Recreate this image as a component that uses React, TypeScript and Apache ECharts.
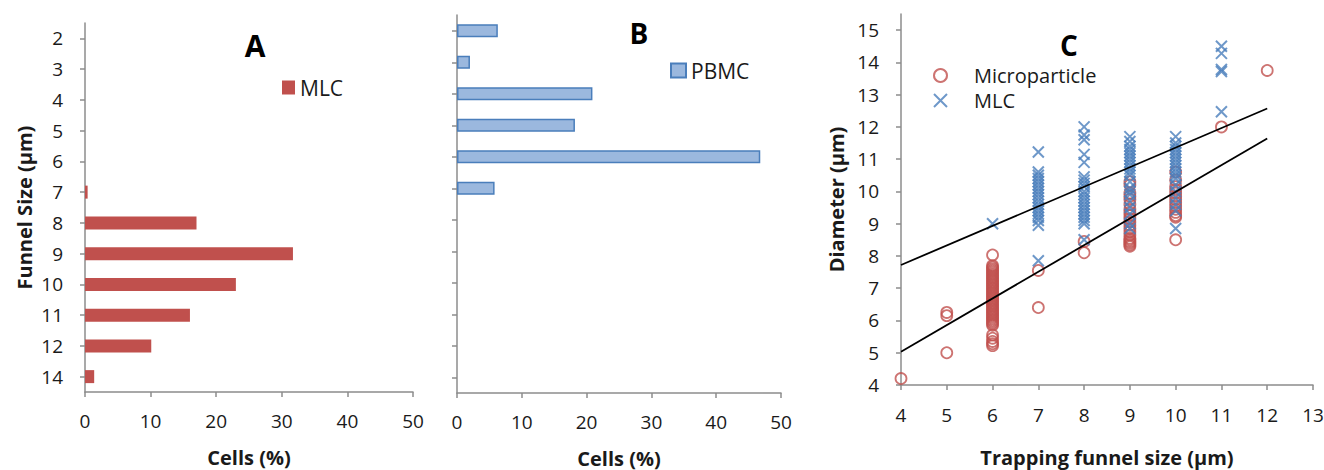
import React, { useEffect, useRef } from "react";
import * as echarts from "echarts";

// ---------- Panel A / B data ----------
const funnelSizes = ["2", "3", "4", "5", "6", "7", "8", "9", "10", "11", "12", "14"];
const mlcCells = [null, null, null, null, null, 0.4, 17.0, 31.7, 23.0, 16.0, 10.1, 1.4];
const pbmcCells = [6.3, 2.0, 20.9, 18.2, 46.8, 5.8, null, null, null, null, null, null];

// ---------- Panel C data ----------
const microFunnels = [4, 5, 6, 7, 8, 9, 10, 11, 12];
const microDiameters = [
  [4.2],
  [6.25, 6.15, 5.0],
  [8.03, 7.7, 7.65, 7.6, 7.55, 7.5, 7.45, 7.4, 7.35, 7.3, 7.25, 7.2, 7.15, 7.1, 7.05, 7.0, 6.95, 6.9, 6.85, 6.8, 6.75, 6.7, 6.65, 6.6, 6.55, 6.5, 6.45, 6.4, 6.35, 6.3, 6.25, 6.2, 6.15, 6.1, 6.05, 6.0, 5.95, 5.9, 5.85, 5.55, 5.45, 5.35, 5.28, 5.22],
  [7.55, 6.4],
  [8.45, 8.1],
  [10.3, 10.2, 9.95, 9.85, 9.75, 9.6, 9.45, 9.35, 9.25, 9.15, 9.05, 8.95, 8.85, 8.75, 8.65, 8.55, 8.5, 8.45, 8.4, 8.35, 8.3],
  [10.6, 10.35, 10.15, 10.05, 9.95, 9.85, 9.75, 9.65, 9.55, 9.45, 9.35, 9.25, 9.2, 8.5],
  [12.0],
  [13.75],
];
const mlcFunnels = [6, 7, 8, 9, 10, 11];
const mlcDiameters = [
  [9.0],
  [11.22, 10.6, 10.5, 10.4, 10.3, 10.2, 10.1, 10.0, 9.9, 9.8, 9.7, 9.6, 9.5, 9.4, 9.3, 9.2, 9.1, 8.95, 7.85],
  [12.0, 11.75, 11.6, 11.15, 10.9, 10.45, 10.35, 10.25, 10.15, 10.0, 9.9, 9.8, 9.7, 9.6, 9.5, 9.4, 9.3, 9.2, 9.1, 9.0, 8.5],
  [11.7, 11.55, 11.4, 11.3, 11.2, 11.1, 11.0, 10.9, 10.8, 10.7, 10.6, 10.5, 10.3, 10.1, 10.0, 9.9, 9.7, 9.5, 9.3, 9.0, 8.85],
  [11.7, 11.5, 11.4, 11.3, 11.2, 11.1, 11.0, 10.9, 10.8, 10.7, 10.6, 10.5, 10.4, 10.2, 10.0, 9.8, 9.6, 9.4, 8.85],
  [14.5, 14.28, 13.78, 13.72, 12.47],
];
const upperFit = [[4, 7.72], [12, 12.57]];
const lowerFit = [[4, 5.03], [12, 11.64]];
const diameterTicks = [4, 5, 6, 7, 8, 9, 10, 11, 12, 13, 14, 15];

const FONT = "'Open Sans', Lato, 'Liberation Sans', sans-serif";
const AXIS_COLOR = "#8c8c8c";
const TEXT_COLOR = "#1a1a1a";
const RED = "#c0504d";
const BLUE = "#4a7ebb";
const LIGHT_BLUE = "#9bb8de";
const CROSS = "path://M0,0L10,10M10,0L0,10";

const axisLine = () => ({ show: true, lineStyle: { color: AXIS_COLOR, width: 1.5 } });
const axisTick = () => ({ show: true, length: 5, lineStyle: { color: AXIS_COLOR, width: 1.5 } });
const labelStyle = () => ({ fontSize: 19, color: TEXT_COLOR, fontFamily: FONT });
const nameStyle = () => ({ fontSize: 20, fontWeight: "bold" as const, color: TEXT_COLOR, fontFamily: FONT });
const legendText = { fontSize: 21, color: TEXT_COLOR, fontFamily: FONT };

function buildOption() {
  const microData = microFunnels.flatMap((x, i) => microDiameters[i].map((y) => [x, y]));
  const mlcData = mlcFunnels.flatMap((x, i) => mlcDiameters[i].map((y) => [x, y]));

  const cellsAxis = (gridIndex: number) => ({
    gridIndex,
    type: "value",
    min: 0,
    max: 50,
    interval: 10,
    axisLine: axisLine(),
    axisTick: axisTick(),
    splitLine: { show: false },
    axisLabel: { ...labelStyle(), margin: 19 },
    name: "Cells (%)",
    nameLocation: "middle",
    nameGap: 55,
    nameMoveOverlap: false,
    nameTextStyle: nameStyle(),
  });

  return {
    animation: false,
    backgroundColor: "#ffffff",
    textStyle: { fontFamily: FONT },
    grid: [
      { left: 85, top: 23, width: 328, height: 369, outerBoundsMode: "none" },
      { left: 457, top: 15, width: 324, height: 378, outerBoundsMode: "none" },
      { left: 901, top: 14, width: 412, height: 371, outerBoundsMode: "none" },
    ],
    xAxis: [
      cellsAxis(0),
      cellsAxis(1),
      {
        gridIndex: 2,
        type: "value",
        min: 4,
        max: 13,
        interval: 1,
        axisLine: axisLine(),
        axisTick: axisTick(),
        splitLine: { show: false },
        axisLabel: { ...labelStyle(), margin: 20 },
        name: "Trapping funnel size (µm)",
        nameLocation: "middle",
        nameGap: 62,
        nameMoveOverlap: false,
        nameTextStyle: nameStyle(),
      },
    ],
    yAxis: [
      {
        gridIndex: 0,
        type: "category",
        inverse: true,
        data: funnelSizes,
        axisLine: axisLine(),
        axisTick: { ...axisTick(), alignWithLabel: true },
        axisLabel: { ...labelStyle(), margin: 22, align: "right" },
        name: "Funnel Size (µm)",
        nameLocation: "middle",
        nameGap: 51,
        nameMoveOverlap: false,
        nameTextStyle: nameStyle(),
      },
      {
        gridIndex: 1,
        type: "category",
        inverse: true,
        data: funnelSizes,
        axisLine: axisLine(),
        axisTick: { ...axisTick(), alignWithLabel: true },
        axisLabel: { show: false },
      },
      {
        gridIndex: 2,
        type: "value",
        min: 4,
        max: 15.5,
        interval: 1,
        axisLine: axisLine(),
        axisTick: { ...axisTick(), customValues: diameterTicks },
        splitLine: { show: false },
        axisLabel: { ...labelStyle(), margin: 22, customValues: diameterTicks },
        name: "Diameter (µm)",
        nameLocation: "middle",
        nameGap: 55,
        nameMoveOverlap: false,
        nameTextStyle: nameStyle(),
      },
    ],
    legend: [
      {
        data: ["MLC"],
        icon: "rect",
        left: 282,
        top: 77,
        padding: 0,
        itemWidth: 13,
        itemHeight: 14,
        textStyle: { ...legendText, lineHeight: 21 },
      },
      {
        data: ["PBMC"],
        icon: "rect",
        left: 670,
        top: 60,
        padding: 0,
        itemWidth: 15,
        itemHeight: 14,
        textStyle: { ...legendText, lineHeight: 21 },
      },
      {
        data: ["Microparticle", "MLC (C)"],
        orient: "vertical",
        left: 933,
        top: 65,
        padding: 0,
        itemWidth: 13,
        itemHeight: 13,
        itemGap: 4,
        formatter: (n: string) => (n === "MLC (C)" ? "MLC" : n),
        textStyle: { ...legendText, fontSize: 20, lineHeight: 21, padding: [0, 0, 0, 22] },
      },
    ],
    series: [
      {
        name: "MLC",
        type: "bar",
        xAxisIndex: 0,
        yAxisIndex: 0,
        data: mlcCells,
        barWidth: 13,
        itemStyle: { color: RED },
      },
      {
        name: "PBMC",
        type: "bar",
        xAxisIndex: 1,
        yAxisIndex: 1,
        data: pbmcCells,
        barWidth: 13,
        itemStyle: { color: LIGHT_BLUE, borderColor: BLUE, borderWidth: 1.5 },
      },
      {
        name: "Microparticle",
        type: "scatter",
        xAxisIndex: 2,
        yAxisIndex: 2,
        data: microData,
        symbol: "circle",
        symbolSize: 11,
        itemStyle: { color: "rgba(0,0,0,0)", borderColor: RED, borderWidth: 1.8 },
      },
      {
        name: "MLC (C)",
        type: "scatter",
        xAxisIndex: 2,
        yAxisIndex: 2,
        data: mlcData,
        symbol: CROSS,
        symbolSize: 11,
        itemStyle: { color: BLUE, borderColor: BLUE, borderWidth: 2 },
      },
      {
        name: "fitUpper",
        type: "line",
        xAxisIndex: 2,
        yAxisIndex: 2,
        data: upperFit,
        symbol: "none",
        lineStyle: { color: "#000", width: 1.8 },
        z: 5,
      },
      {
        name: "fitLower",
        type: "line",
        xAxisIndex: 2,
        yAxisIndex: 2,
        data: lowerFit,
        symbol: "none",
        lineStyle: { color: "#000", width: 1.8 },
        z: 5,
      },
    ],
    graphic: [
      { type: "text", x: 255, y: 45, style: { text: "A", font: `bold 30px ${FONT}`, fill: "#000", align: "center", verticalAlign: "middle" } },
      { type: "text", x: 639, y: 33, style: { text: "B", font: `bold 28px ${FONT}`, fill: "#000", align: "center", verticalAlign: "middle" } },
      { type: "text", x: 1069, y: 45, style: { text: "C", font: `bold 28px ${FONT}`, fill: "#000", align: "center", verticalAlign: "middle" } },
    ],
  };
}

export default function App() {
  const ref = useRef<HTMLDivElement>(null);
  useEffect(() => {
    if (!ref.current) return;
    const chart = echarts.init(ref.current, null, { renderer: "svg" });
    chart.setOption(buildOption() as any);
    return () => chart.dispose();
  }, []);
  return (
    <div
      ref={ref}
      style={{ position: "absolute", left: 0, top: 0, width: 1324, height: 470, background: "#fff" }}
    />
  );
}
